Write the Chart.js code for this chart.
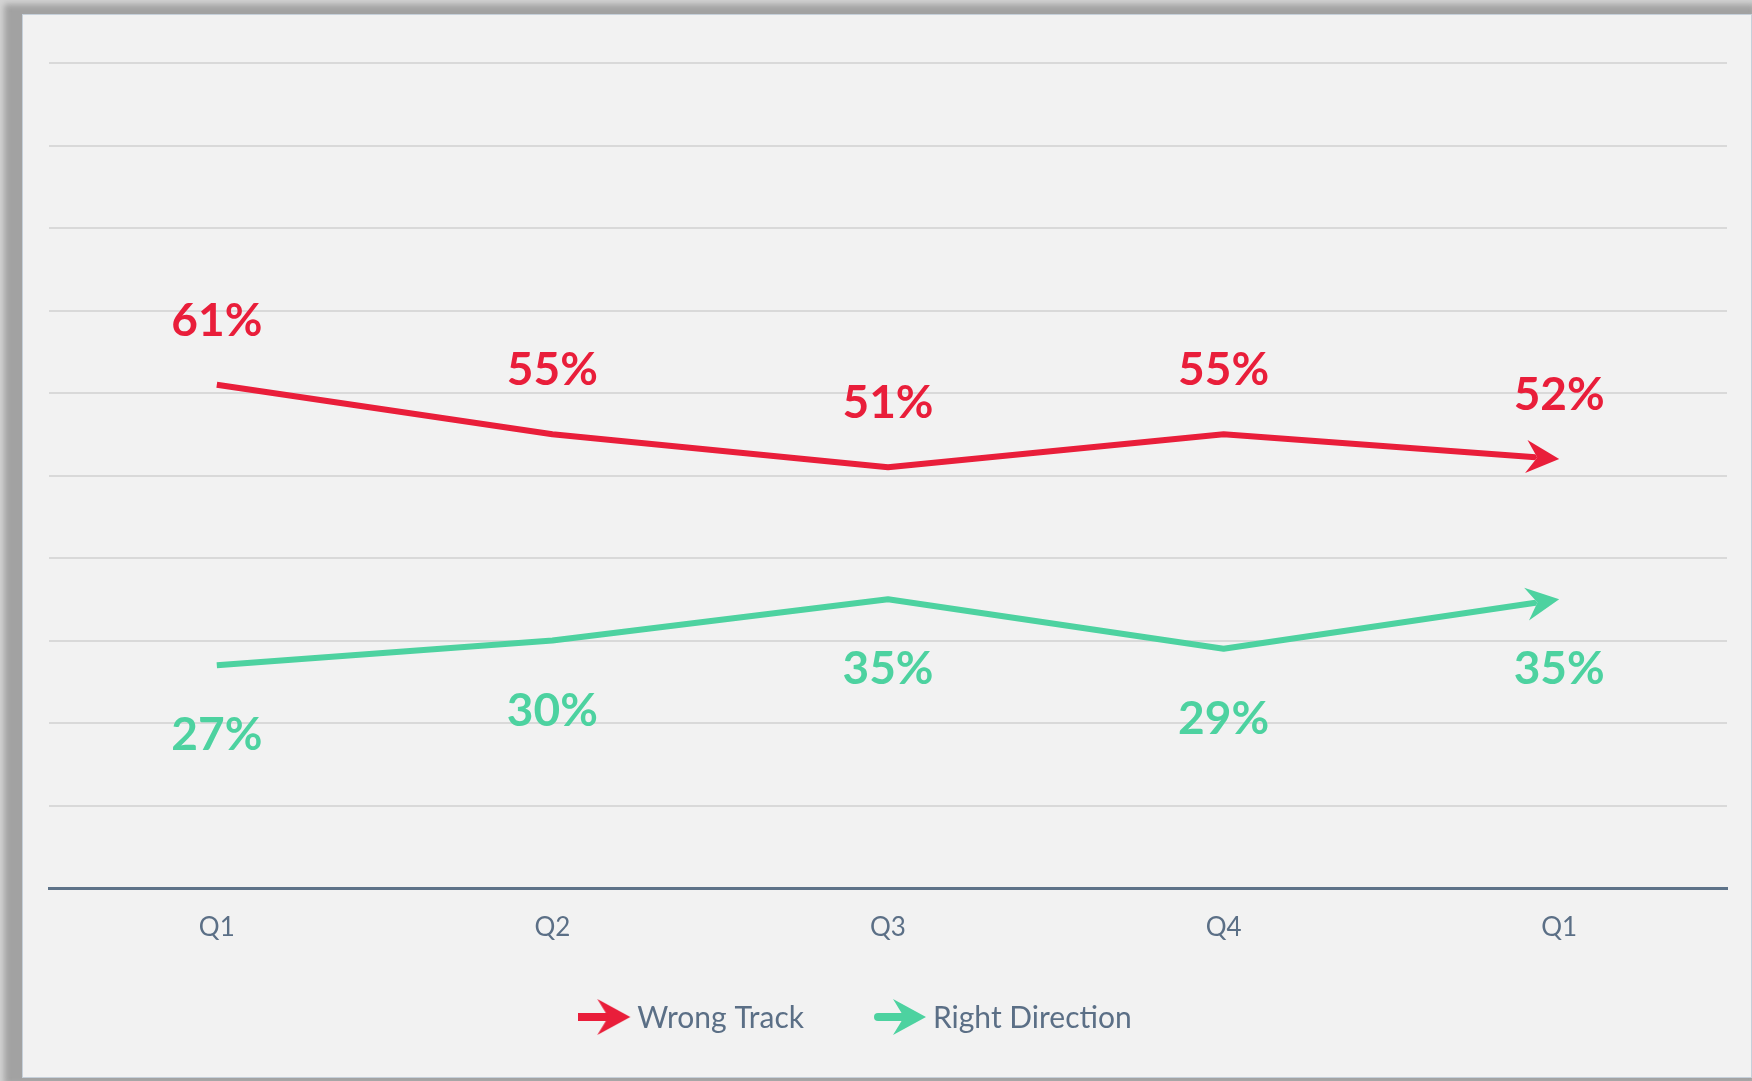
<!DOCTYPE html>
<html><head><meta charset="utf-8">
<script src="https://cdn.jsdelivr.net/npm/chart.js@4.4.1/dist/chart.umd.min.js"></script>
<style>
html,body{margin:0;padding:0;width:1752px;height:1081px;overflow:hidden;background:#a3a3a3;}
#frame{position:absolute;left:0;top:0;width:1752px;height:1081px;background:#a2a2a2;box-shadow:inset 4px 4px 6px rgba(235,235,235,0.7);}
#box{position:absolute;left:22px;top:14px;width:1728px;height:1062px;border:1px solid #c6d0da;background:#f2f2f2;}
canvas{display:block;}
</style></head>
<body>
<div id="frame"></div>
<div id="box"><canvas id="c"></canvas></div>
<script>
const categories = ['Q1', 'Q2', 'Q3', 'Q4', 'Q1'];
const wrongTrack = [61, 55, 51, 55, 52];
const rightDirection = [27, 30, 35, 29, 35];
const seriesNames = ['Wrong Track', 'Right Direction'];
const yTicks = [0, 10, 20, 30, 40, 50, 60, 70, 80, 90, 100];

const RED = '#E91E3A';
const GREEN = '#4DD2A0';
const TEXT = '#5B6F86';

function arrowImg(color, roundCap){
  const c = document.createElement('canvas');
  c.width = 54; c.height = 38;
  const g = c.getContext('2d');
  g.strokeStyle = color; g.fillStyle = color;
  g.lineWidth = 8; g.lineCap = roundCap ? 'round' : 'butt';
  g.beginPath(); g.moveTo(roundCap ? 4 : 0, 19); g.lineTo(32, 19); g.stroke();
  g.beginPath(); g.moveTo(52, 19); g.lineTo(19, 1); g.lineTo(30, 19); g.lineTo(19, 37); g.closePath(); g.fill();
  return c;
}

// arrow head geometry in local (rotated) coordinates, tip at origin
const HEAD_L = 33, HEAD_W = 16.5, NOTCH = 22;

function headFrame(chart, i){
  const meta = chart.getDatasetMeta(i);
  const n = meta.data.length;
  const p = meta.data[n-1], q = meta.data[n-2];
  return { x: p.x, y: p.y, ang: Math.atan2(p.y - q.y, p.x - q.x) };
}

const overlay = {
  id: 'overlay',
  beforeDatasetDraw(chart, args){
    const ctx = chart.ctx;
    const f = headFrame(chart, args.index);
    ctx.save();
    ctx.beginPath();
    ctx.rect(0, 0, chart.width, chart.height);
    const pts = [[-NOTCH, 0], [-HEAD_L, -HEAD_W], [12, -HEAD_W], [12, HEAD_W], [-HEAD_L, HEAD_W]];
    const c = Math.cos(f.ang), s = Math.sin(f.ang);
    pts.forEach((p, k) => {
      const X = f.x + p[0]*c - p[1]*s, Y = f.y + p[0]*s + p[1]*c;
      if (k === 0) ctx.moveTo(X, Y); else ctx.lineTo(X, Y);
    });
    ctx.closePath();
    ctx.clip('evenodd');
  },
  afterDatasetDraw(chart){
    chart.ctx.restore();
  },
  afterDatasetsDraw(chart){
    const ctx = chart.ctx;
    chart.data.datasets.forEach((ds, i) => {
      const meta = chart.getDatasetMeta(i);
      const f = headFrame(chart, i);
      ctx.save();
      ctx.fillStyle = ds.borderColor;
      ctx.translate(f.x, f.y); ctx.rotate(f.ang);
      ctx.beginPath();
      ctx.moveTo(0, 0); ctx.lineTo(-HEAD_L, -HEAD_W); ctx.lineTo(-NOTCH, 0); ctx.lineTo(-HEAD_L, HEAD_W);
      ctx.closePath(); ctx.fill();
      ctx.restore();
      // value labels
      ctx.save();
      ctx.font = 'bold 46px Lato';
      ctx.fillStyle = ds.borderColor;
      ctx.textAlign = 'center';
      ctx.textBaseline = 'alphabetic';
      const dy = ds.labelSide === 'above' ? -49 : 85;
      meta.data.forEach((pt, j) => {
        ctx.fillText(ds.data[j] + '%', pt.x, pt.y + dy);
      });
      ctx.restore();
    });
    // legend
    ctx.save();
    ctx.font = '30px Lato';
    ctx.textBaseline = 'middle';
    ctx.textAlign = 'left';
    const gap = 70, iconW = 52, iconGap = 7;
    const widths = chart.data.datasets.map(ds => iconW + iconGap + ctx.measureText(ds.label).width);
    const total = widths.reduce((a,b)=>a+b,0) + gap*(widths.length-1);
    let x = 832 - total/2;
    const y = 1002;
    chart.data.datasets.forEach((ds, i) => {
      ctx.drawImage(ds.pointStyle, x, y - 19);
      ctx.fillStyle = TEXT;
      ctx.fillText(ds.label, x + iconW + iconGap, y + 1);
      x += widths[i] + gap;
    });
    ctx.restore();
  }
};

Chart.defaults.font.family = 'Lato';
new Chart(document.getElementById('c'), {
  type: 'line',
  data: {
    labels: categories,
    datasets: [
      { label: seriesNames[0], data: wrongTrack, borderColor: RED, backgroundColor: RED,
        borderWidth: 6, pointRadius: 0, pointHoverRadius: 0, tension: 0, borderCapStyle: 'butt',
        borderJoinStyle: 'round', pointStyle: arrowImg(RED, false), labelSide: 'above' },
      { label: seriesNames[1], data: rightDirection, borderColor: GREEN, backgroundColor: GREEN,
        borderWidth: 6, pointRadius: 0, pointHoverRadius: 0, tension: 0, borderCapStyle: 'butt',
        borderJoinStyle: 'round', pointStyle: arrowImg(GREEN, true), labelSide: 'below' }
    ]
  },
  options: {
    responsive: true, maintainAspectRatio: false, animation: false, devicePixelRatio: 1,
    layout: { padding: { left: 26, right: 24, top: 48, bottom: 0 } },
    plugins: { legend: { display: false }, tooltip: { enabled: false } },
    scales: {
      x: {
        offset: true,
        grid: { display: false, drawTicks: false },
        border: { display: true, color: '#5E7389', width: 3 },
        ticks: { color: TEXT, font: { size: 26 }, padding: 24 },
        afterFit(s){ s.height = 189; }
      },
      y: {
        min: 0, max: 100,
        afterBuildTicks(s){ s.ticks = yTicks.map(v => ({ value: v })); },
        grid: { color: '#D9D9D9', lineWidth: 2, drawTicks: false },
        border: { display: false },
        ticks: { display: false },
        afterFit(s){ s.width = 0; }
      }
    }
  },
  plugins: [overlay]
});
</script>
</body></html>
